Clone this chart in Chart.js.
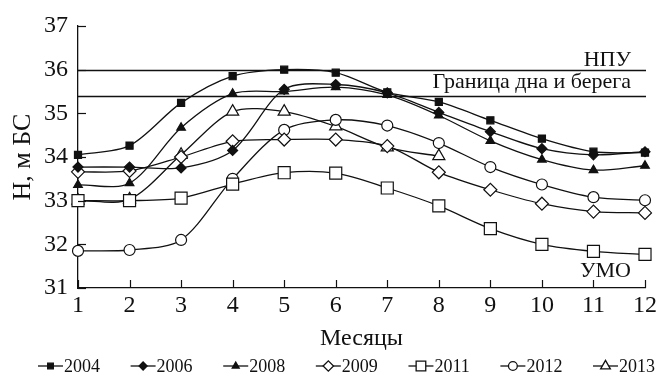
<!DOCTYPE html>
<html lang="ru">
<head>
  <meta charset="UTF-8" />
  <title>Уровень воды по месяцам</title>
  <script src="https://cdn.jsdelivr.net/npm/chart.js"></script>
  <style>
    body { margin: 0; padding: 0; background: #fff; }
    canvas { display: block; }
  </style>
</head>
<body>
  <canvas id="levelChart" width="660" height="383"></canvas>

  <script>
    // months and yearly water levels, m BS
    const months = ['1', '2', '3', '4', '5', '6', '7', '8', '9', '10', '11', '12'];
    const years = ['2004', '2006', '2008', '2009', '2011', '2012', '2013'];

    const h2004 = [34.05, 34.26, 35.24, 35.85, 36.0, 35.93, 35.48, 35.26, 34.84, 34.42, 34.12, 34.1];
    const h2006 = [33.77, 33.77, 33.75, 34.15, 35.55, 35.66, 35.47, 35.02, 34.58, 34.19, 34.05, 34.12];
    const h2008 = [33.36, 33.4, 34.67, 35.45, 35.5, 35.6, 35.42, 34.95, 34.37, 33.94, 33.7, 33.8];
    const h2009 = [33.66, 33.68, 34.0, 34.36, 34.4, 34.4, 34.25, 33.65, 33.25, 32.93, 32.75, 32.72];
    const h2011 = [33.0, 33.0, 33.06, 33.38, 33.64, 33.63, 33.29, 32.88, 32.36, 32.0, 31.84, 31.77];
    const h2012 = [31.85, 31.87, 32.1, 33.5, 34.62, 34.85, 34.72, 34.32, 33.77, 33.37, 33.08, 33.01];
    const h2013 = [33.0, 33.03, 34.05, 35.04, 35.04, 34.7, 34.22, 34.02, null, null, null, null];

    const yTicks = [31, 32, 33, 34, 35, 36, 37];
    const refLevels = [36.0, 35.4];
    const refNames = ['НПУ', 'Граница дна и берега'];

    const serif = "'Liberation Serif', 'Times New Roman', serif";
    Chart.defaults.font.family = serif;
    Chart.defaults.color = '#111';

    const series = [h2004, h2006, h2008, h2009, h2011, h2012, h2013];
    const markers = [
      { style: 'rect', radius: 5, filled: true },
      { style: 'rectRot', radius: 5, filled: true },
      { style: 'triangle', radius: 5, filled: true },
      { style: 'rectRot', radius: 6.5, filled: false },
      { style: 'rect', radius: 8.5, filled: false },
      { style: 'circle', radius: 5.5, filled: false },
      { style: 'triangle', radius: 7, filled: false }
    ];

    const datasets = series.map((d, i) => ({
      label: years[i],
      data: d,
      borderColor: '#111',
      borderWidth: 1.3,
      tension: 0.3,
      pointStyle: markers[i].style,
      pointRadius: markers[i].radius,
      pointBackgroundColor: markers[i].filled ? '#111' : '#fff',
      pointBorderColor: '#111',
      pointBorderWidth: 1.2,
      spanGaps: false
    }));

    const extras = {
      id: 'extras',
      beforeDatasetsDraw(chart) {
        const { ctx, chartArea } = chart;
        const y = chart.scales.y;
        ctx.save();
        ctx.strokeStyle = '#111';
        ctx.lineWidth = 1.6;
        refLevels.forEach(v => {
          const py = Math.round(y.getPixelForValue(v)) + 0.5;
          ctx.beginPath();
          ctx.moveTo(chartArea.left, py);
          ctx.lineTo(chartArea.right + 1, py);
          ctx.stroke();
        });
        ctx.restore();
      },
      afterDraw(chart) {
        const { ctx, chartArea } = chart;
        const xs = chart.scales.x, ys = chart.scales.y;
        ctx.save();
        ctx.strokeStyle = '#111';
        ctx.lineWidth = 1.2;

        // inward tick marks
        ys.ticks.forEach((t, i) => {
          const py = Math.round(ys.getPixelForTick(i)) + 0.5;
          ctx.beginPath();
          ctx.moveTo(chartArea.left, py);
          ctx.lineTo(chartArea.left + 8, py);
          ctx.stroke();
        });
        xs.ticks.forEach((t, i) => {
          const px = Math.round(xs.getPixelForTick(i)) + 0.5;
          ctx.beginPath();
          ctx.moveTo(px, chartArea.bottom);
          ctx.lineTo(px, chartArea.bottom - 8);
          ctx.stroke();
        });

        // level captions
        ctx.fillStyle = '#111';
        ctx.font = '22px ' + serif;
        ctx.textAlign = 'right';
        ctx.textBaseline = 'alphabetic';
        const rx = chartArea.right - 14;
        ctx.fillText(refNames[0], rx, ys.getPixelForValue(refLevels[0]) - 4);
        ctx.fillText(refNames[1], rx, ys.getPixelForValue(refLevels[1]) - 8);
        ctx.fillText('УМО', rx, chartArea.bottom - 11);

        // legend row
        ctx.font = '18px ' + serif;
        ctx.textAlign = 'left';
        ctx.textBaseline = 'middle';
        const ly = 366, x0 = 38, x1 = 655, sym = 25;
        const widths = years.map(t => ctx.measureText(t).width);
        const used = widths.reduce((a, w) => a + sym + 1 + w, 0);
        const gap = (x1 - x0 - used) / (years.length - 1);
        let lx = x0;
        years.forEach((t, i) => {
          ctx.lineWidth = 1.3;
          ctx.beginPath();
          ctx.moveTo(lx, ly);
          ctx.lineTo(lx + sym, ly);
          ctx.stroke();
          const m = markers[i];
          ctx.fillStyle = m.filled ? '#111' : '#fff';
          Chart.helpers.drawPoint(ctx, {
            pointStyle: m.style, radius: m.radius * 0.8, borderWidth: 1.2, rotation: 0
          }, lx + sym / 2, ly);
          ctx.fillStyle = '#111';
          ctx.fillText(t, lx + sym + 1, ly + 1);
          lx += sym + 1 + widths[i] + gap;
        });
        ctx.restore();
      }
    };

    new Chart(document.getElementById('levelChart'), {
      type: 'line',
      data: { labels: months, datasets },
      options: {
        responsive: false,
        animation: false,
        devicePixelRatio: 1,
        layout: { padding: { left: 0, right: 15, top: 26, bottom: 31 } },
        plugins: { legend: { display: false }, tooltip: { enabled: false } },
        scales: {
          x: {
            offset: false,
            grid: { display: true, drawOnChartArea: false, drawTicks: false },
            border: { color: '#111', width: 1.3 },
            ticks: { font: { size: 24 }, padding: 3, maxRotation: 0, autoSkip: false },
            title: { display: true, text: 'Месяцы', font: { size: 24, lineHeight: 1 }, padding: { top: 0, bottom: 1 } },
            afterFit(scale) { scale.height = 64; }
          },
          y: {
            min: 31,
            max: 37,
            afterBuildTicks(scale) { scale.ticks = yTicks.map(v => ({ value: v })); },
            grid: { display: true, drawOnChartArea: false, drawTicks: false },
            border: { color: '#111', width: 1.3 },
            ticks: { font: { size: 24 }, padding: 10 },
            title: { display: true, text: 'Н, м БС', font: { size: 26, lineHeight: 1 }, padding: { top: 10, bottom: 0 } },
            afterFit(scale) { scale.width = 78; }
          }
        }
      },
      plugins: [extras]
    });
  </script>
</body>
</html>
